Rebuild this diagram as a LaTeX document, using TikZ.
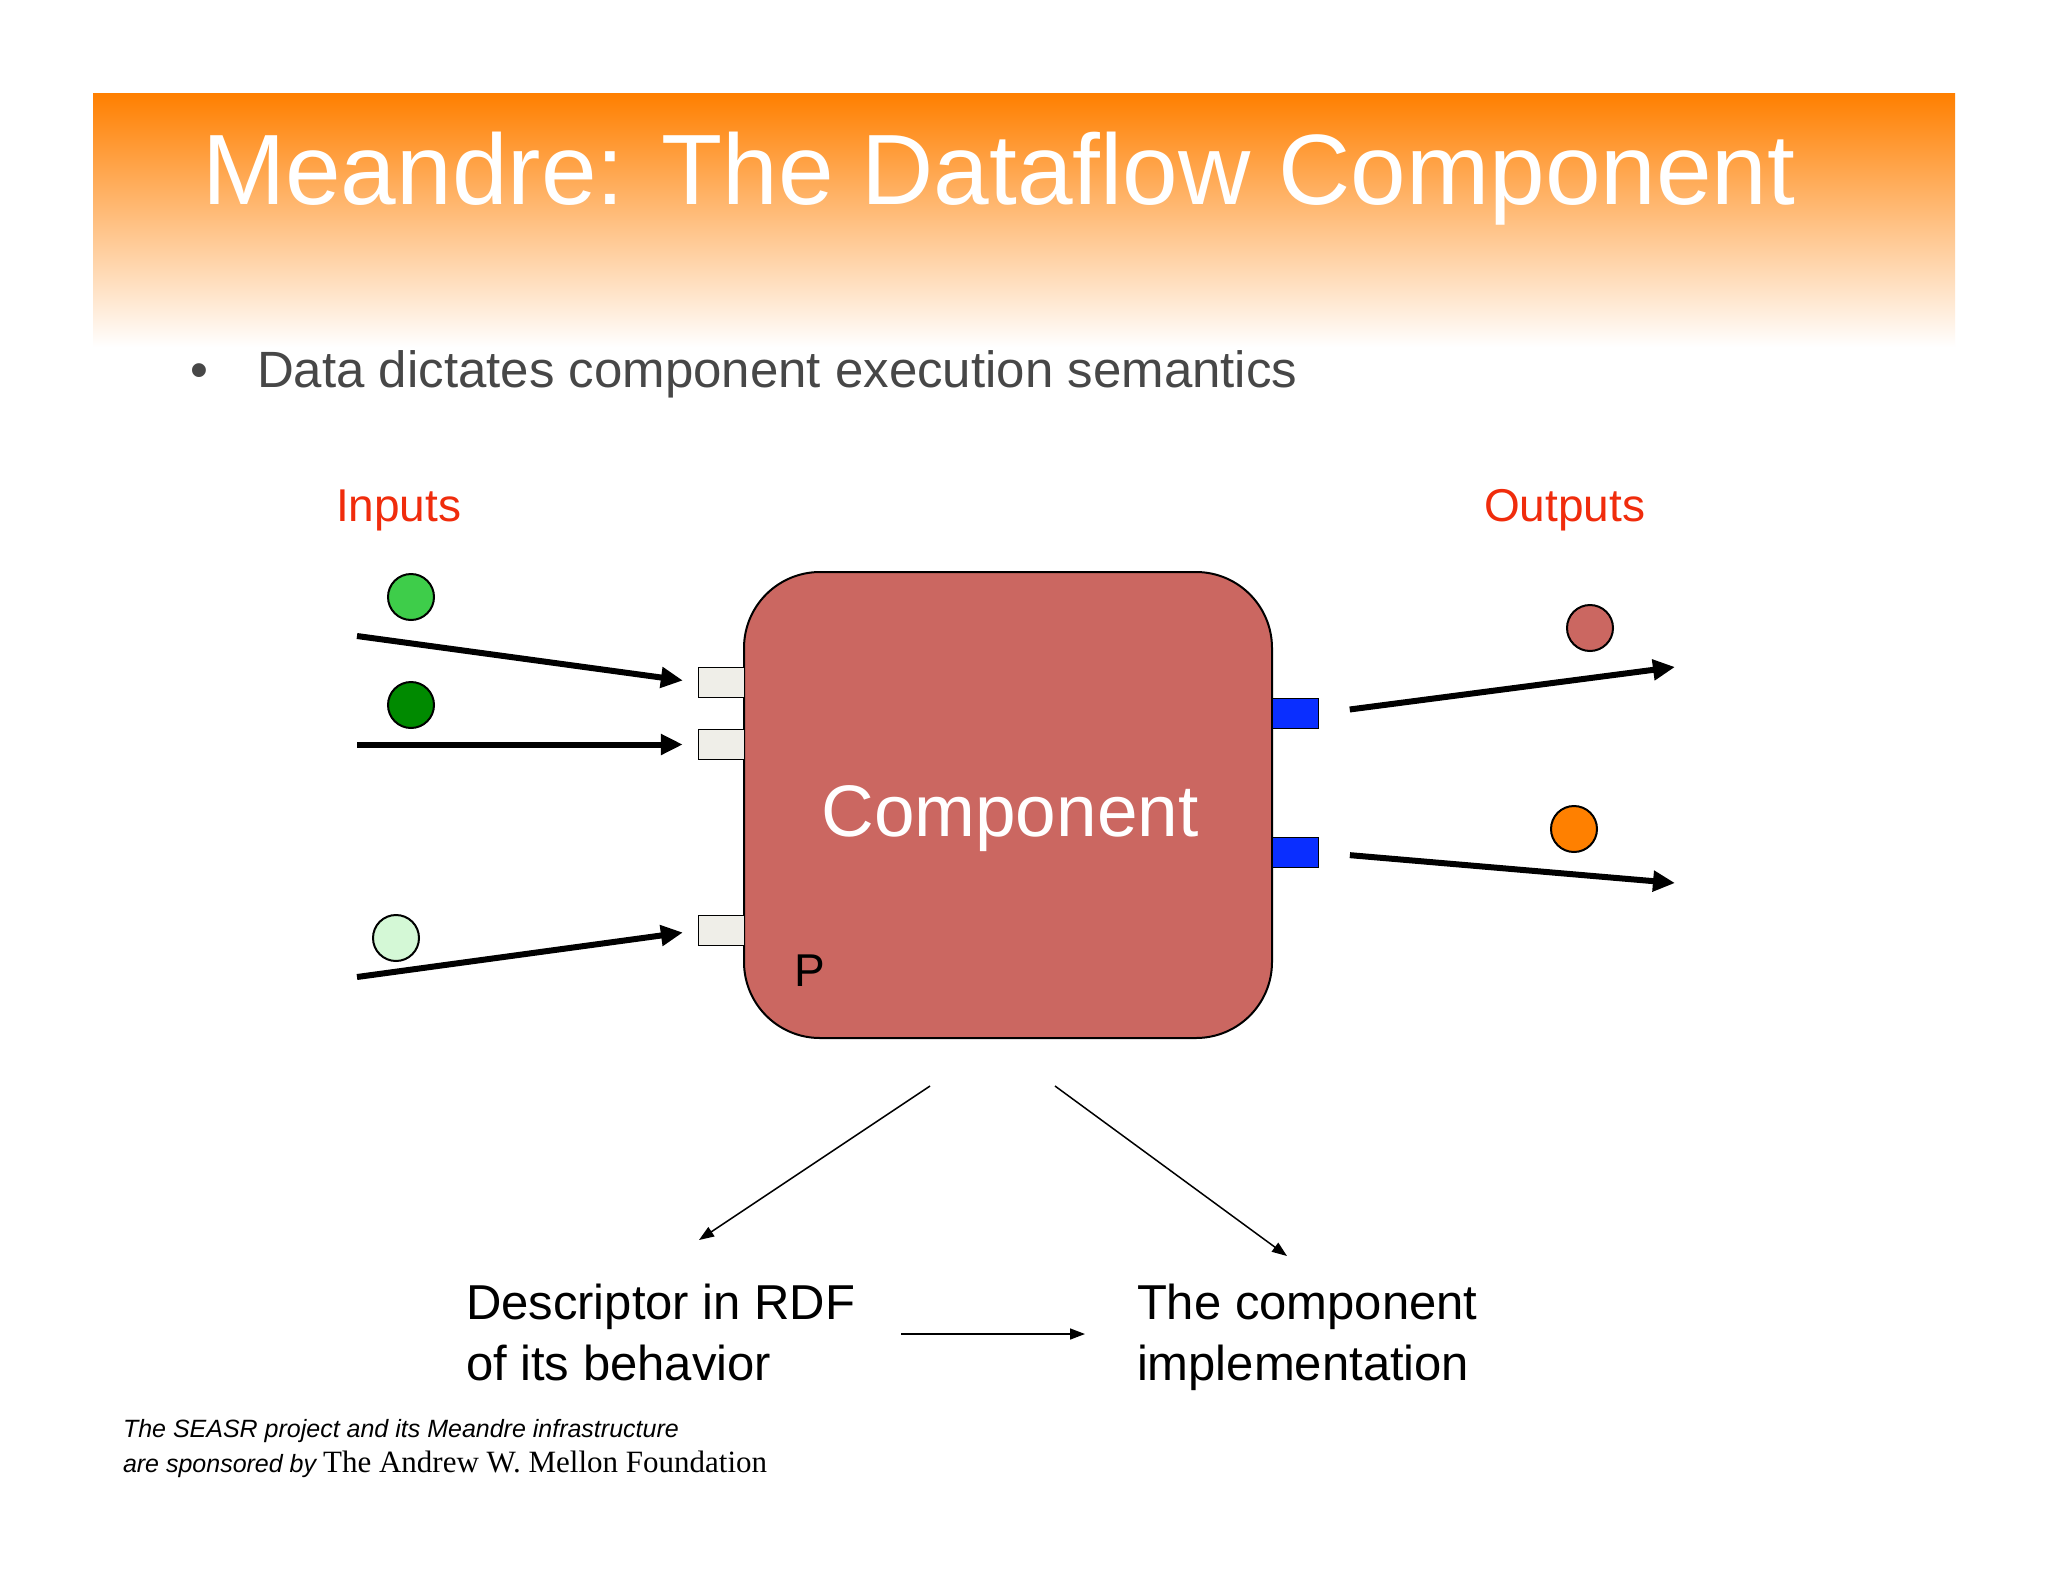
\documentclass[tikz,border=0pt]{standalone}
\usepackage{fontspec}
\setmainfont{Liberation Sans}
\newfontfamily\seriff{Liberation Serif}
\usetikzlibrary{arrows.meta}
\definecolor{ttlorange}{HTML}{FF7F00}
\definecolor{subgray}{HTML}{474747}
\definecolor{lblred}{HTML}{F02C0C}
\definecolor{greenA}{HTML}{3ECD4A}
\definecolor{greenB}{HTML}{008A00}
\definecolor{greenC}{HTML}{D4F8D6}
\definecolor{boxred}{HTML}{CB6761}
\definecolor{portgray}{HTML}{EFEEE8}
\definecolor{portblue}{HTML}{0A2EFF}
\definecolor{ballorange}{HTML}{FF8000}
\begin{document}
\begin{tikzpicture}[x=1pt,y=-1pt,
  txt/.style={inner sep=0pt, outer sep=0pt},
  ball/.style={circle, draw, line width=2pt, minimum size=46pt, inner sep=0pt},
  inport/.style={draw, line width=1.5pt, fill=portgray, minimum width=46pt, minimum height=30pt, inner sep=0pt},
  outport/.style={draw, line width=1pt, fill=portblue, minimum width=46pt, minimum height=30pt, inner sep=0pt},
  bigarrow/.style={line width=6pt, -{Triangle[length=22pt,width=20pt]}},
  thinarrow/.style={line width=1.5pt, -{Triangle[length=15pt,width=11pt]}}]
\useasboundingbox (0,0) rectangle (2048,1582);
\fill[white] (0,0) rectangle (2048,1582);
\shade[top color=ttlorange, bottom color=white] (93,93) rectangle (1955,347);

\node[txt, anchor=base west, text=white, font=\fontsize{100}{120}\selectfont] (title) at (202,204) {Meandre: The Dataflow Component};
\node[txt, anchor=base west, text=subgray, font=\fontsize{51}{60}\selectfont] (bullet) at (190,387) {•};
\node[txt, anchor=base west, text=subgray, font=\fontsize{51}{60}\selectfont] (sub) at (257,387) {Data dictates component execution semantics};

\node[txt, anchor=base west, text=lblred, font=\fontsize{46}{55}\selectfont] (inputs) at (336,521) {Inputs};
\node[txt, anchor=base west, text=lblred, font=\fontsize{46}{55}\selectfont] (outputs) at (1484,521) {Outputs};

% main component
\node[draw, line width=2pt, fill=boxred, rounded corners=76pt, minimum width=528pt, minimum height=466pt] (main) at (1008,805) {};
\node[txt, anchor=base, text=white, font=\fontsize{73}{80}\selectfont] (ctext) at (1010,836) {Component};
\node[txt, anchor=base west, font=\fontsize{46}{55}\selectfont] (plabel) at (794,986) {P};

% ports
\node[inport] (ip1) at (721.5,682.5) {};
\node[inport] (ip2) at (721.5,744.5) {};
\node[inport] (ip3) at (721.5,930.5) {};
\node[outport] (op1) at (1295.5,713.5) {};
\node[outport] (op2) at (1295.5,852.5) {};

% data balls
\node[ball, fill=greenA] (b1) at (411,597) {};
\node[ball, fill=greenB] (b2) at (411,705) {};
\node[ball, fill=greenC] (b3) at (396,938) {};
\node[ball, fill=boxred] (b4) at (1590,628) {};
\node[ball, fill=ballorange] (b5) at (1574,829) {};

% input / output arrows
\coordinate (i1s) at (357,636);
\coordinate (i2s) at (357,744.5);
\coordinate (i3s) at (357,977);
\coordinate (o1e) at (1675,667);
\coordinate (o2e) at (1675,883);
\draw[bigarrow, shorten >=15pt] (i1s) -- (ip1.west);
\draw[bigarrow, shorten >=15pt] (i2s) -- (ip2.west);
\draw[bigarrow, shorten >=15pt] (i3s) -- (ip3.west);
\draw[bigarrow, shorten <=31pt] (op1.east) -- (o1e);
\draw[bigarrow, shorten <=31pt] (op2.east) -- (o2e);

% descriptions (anchor at the baseline of the last line)
\node[txt, anchor=base west, align=left, font=\fontsize{49}{61}\selectfont] (desc) at (466,1380) {Descriptor in RDF\\of its behavior};
\node[txt, anchor=base west, align=left, font=\fontsize{49}{61}\selectfont] (impl) at (1137,1380) {The component\\implementation};

\coordinate (dl0) at (930,1086);
\coordinate (dl1) at (699,1240);
\coordinate (dr0) at (1055,1086);
\coordinate (dr1) at (1287,1256);
\coordinate (m0) at (901,1334);
\coordinate (m1) at (1085,1334);
\draw[thinarrow] (dl0) -- (dl1);
\draw[thinarrow] (dr0) -- (dr1);
\draw[thinarrow] (m0) -- (m1);

% footer
\node[txt, anchor=base west, font=\fontsize{25}{35}\selectfont\itshape] (foot1) at (123,1437) {The SEASR project and its Meandre infrastructure};
\node[txt, anchor=base west, font=\fontsize{25}{35}\selectfont\itshape] (foot2) at (123,1472) {are sponsored by {\seriff\upshape\fontsize{31}{35}\selectfont The Andrew W. Mellon Foundation}};
\end{tikzpicture}
\end{document}
